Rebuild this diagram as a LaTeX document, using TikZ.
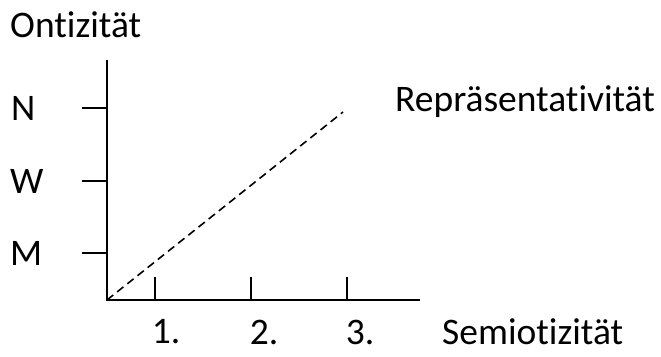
\documentclass[tikz,border=0pt]{standalone}
\usepackage{fontspec}
\setmainfont[Ligatures=NoCommon]{Carlito}
\begin{document}
\begin{tikzpicture}[
        x=1pt, y=-1pt,
        label/.style={
            inner sep=0pt,
            font=\fontsize{37.5}{42}\selectfont
        },
        axis/.style={
            line width=2.2pt
        },
        tick/.style={
            line width=2.2pt
        },
        diag/.style={
            line width=1.6pt,
            dash pattern=on 8pt off 5pt
        }
    ]
        \useasboundingbox (0,0) rectangle (661,356);

        % Axes
        \coordinate (orig) at (107,300);
        \coordinate (ytop) at (107,60);
        \coordinate (xend) at (420,300);
        \draw[axis] (ytop) -- (orig) -- (xend);

        % Ontizitaet ticks
        \coordinate (tm) at (82,253);
        \coordinate (tmr) at (107,253);
        \coordinate (tw) at (82,181);
        \coordinate (twr) at (107,181);
        \coordinate (tn) at (82,108);
        \coordinate (tnr) at (107,108);
        \draw[tick] (tm) -- (tmr);
        \draw[tick] (tw) -- (twr);
        \draw[tick] (tn) -- (tnr);

        % Semiotizitaet ticks
        \coordinate (t1) at (155,277);
        \coordinate (t1b) at (155,300);
        \coordinate (t2) at (251,277);
        \coordinate (t2b) at (251,300);
        \coordinate (t3) at (347,277);
        \coordinate (t3b) at (347,300);
        \draw[tick] (t1) -- (t1b);
        \draw[tick] (t2) -- (t2b);
        \draw[tick] (t3) -- (t3b);

        % Repraesentativitaet
        \coordinate (rend) at (343,112);
        \draw[diag] (orig) -- (rend);

        % Labels
        \node[label, anchor=west] (onti) at (10,25) {Ontizität};
        \node[label, anchor=west] (lN) at (11,108) {N};
        \node[label, anchor=west] (lW) at (10,181) {W};
        \node[label, anchor=west] (lM) at (10,253) {M};
        \node[label] (l1) at (166,332) {1.};
        \node[label] (l2) at (264,332) {2.};
        \node[label] (l3) at (360,332) {3.};
        \node[label, anchor=west] (semio) at (442,332) {Semiotizität};
        \node[label, anchor=west] (repr) at (395,102) {Repräsentativität};

    \end{tikzpicture}
\end{document}
